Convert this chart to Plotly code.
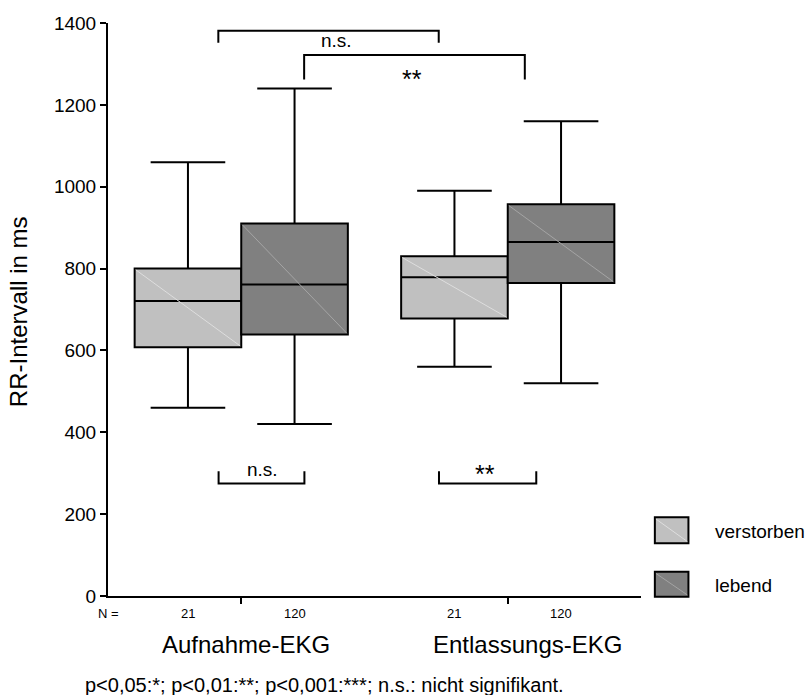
import plotly.graph_objects as go

# --- data -------------------------------------------------------------------
groups = ["Aufnahme-EKG", "Entlassungs-EKG"]
group_pos = [1, 2]
series_names = ["verstorben", "lebend"]
series_colors = ["#c0c0c0", "#808080"]
diag_colors = ["#dedede", "#a4a4a4"]
n_counts = [21, 120]

# five-number summaries per series, one entry per group
lower_whisker = {"verstorben": [460, 560], "lebend": [420, 520]}
q1_values = {"verstorben": [608, 678], "lebend": [639, 765]}
median_values = {"verstorben": [721, 779], "lebend": [761, 865]}
q3_values = {"verstorben": [800, 830], "lebend": [910, 957]}
upper_whisker = {"verstorben": [1060, 990], "lebend": [1240, 1160]}

y_ticks = [0, 200, 400, 600, 800, 1000, 1200, 1400]

FONT = "Liberation Sans, Arial, Helvetica, sans-serif"
BOX_W = 0.4
offsets = [-0.2, 0.2]

fig = go.Figure()

for name, col, off in zip(series_names, series_colors, offsets):
    xs = [g + off for g in group_pos]
    fig.add_trace(go.Box(
        x=xs,
        q1=q1_values[name],
        median=median_values[name],
        q3=q3_values[name],
        lowerfence=lower_whisker[name],
        upperfence=upper_whisker[name],
        width=BOX_W,
        whiskerwidth=0.7,
        fillcolor=col,
        line=dict(color="black", width=2),
        boxpoints=False,
        name=name,
        showlegend=False,
        hoverinfo="skip",
    ))

# faint diagonal hatch line across each box
for name, dcol, off in zip(series_names, diag_colors, offsets):
    for g, top, bot in zip(group_pos, q3_values[name], q1_values[name]):
        fig.add_trace(go.Scatter(
            x=[g + off - BOX_W / 2 + 0.004, g + off + BOX_W / 2 - 0.004],
            y=[top - 3, bot + 3],
            mode="lines",
            line=dict(color=dcol, width=1),
            showlegend=False,
            hoverinfo="skip",
        ))

# significance brackets: (x0, x1, y_bar, y_end, label, label_x, label_y, size)
brackets = [
    (0.914, 1.741, 1381, 1352, "n.s.", 1.356, 1358, 19),
    (1.236, 2.064, 1322, 1262, "**", 1.639, 1262, 25),
    (0.915, 1.237, 275, 305, "n.s.", 1.079, 309, 19),
    (1.742, 2.107, 275, 305, "**", 1.914, 297, 25),
]
shapes = []
annotations = []
for x0, x1, yb, ye, lab, lx, ly, fs in brackets:
    shapes.append(dict(
        type="path", xref="x", yref="y",
        path=f"M {x0},{ye} L {x0},{yb} L {x1},{yb} L {x1},{ye}",
        line=dict(color="black", width=2),
    ))
    annotations.append(dict(
        x=lx, y=ly, xref="x", yref="y", text=lab, showarrow=False,
        font=dict(family=FONT, size=fs, color="black"),
        xanchor="center", yanchor="middle",
    ))

# N = row under the axis
annotations.append(dict(
    x=0.5, y=-0.031, xref="x", yref="paper", text="N =", showarrow=False,
    font=dict(family=FONT, size=13, color="black"), xanchor="center", yanchor="middle",
))
for g in group_pos:
    for n, off in zip(n_counts, offsets):
        annotations.append(dict(
            x=g + off, y=-0.031, xref="x", yref="paper", text=str(n), showarrow=False,
            font=dict(family=FONT, size=13, color="black"),
            xanchor="center", yanchor="middle",
        ))

# group labels
for g, lab, shift in zip(group_pos, groups, [0.017, 0.075]):
    annotations.append(dict(
        x=g + shift, y=-0.084, xref="x", yref="paper", text=lab, showarrow=False,
        font=dict(family=FONT, size=24, color="black"),
        xanchor="center", yanchor="middle",
    ))

# y axis title
annotations.append(dict(
    x=-0.169, y=0.497, xref="paper", yref="paper", text="RR-Intervall in ms",
    showarrow=False, textangle=-90,
    font=dict(family=FONT, size=24, color="black"),
    xanchor="center", yanchor="middle",
))

# footnote
annotations.append(dict(
    x=-0.047, y=-0.155, xref="paper", yref="paper",
    text="p<0,05:*; p<0,01:**; p<0,001:***; n.s.: nicht signifikant.",
    showarrow=False, font=dict(family=FONT, size=20, color="black"),
    xanchor="left", yanchor="middle",
))

# legend drawn as swatches + labels
legend_rows = [(0.1373, 0.0920, 0.112), (0.0424, -0.0012, 0.018)]
for name, col, dcol, (ytop, ybot, ylab) in zip(series_names, series_colors, diag_colors, legend_rows):
    shapes.append(dict(
        type="rect", xref="paper", yref="paper",
        x0=1.026, x1=1.089, y0=ybot, y1=ytop,
        fillcolor=col, line=dict(color="black", width=2),
    ))
    shapes.append(dict(
        type="line", xref="paper", yref="paper",
        x0=1.028, x1=1.087, y0=ytop - 0.003, y1=ybot + 0.003,
        line=dict(color=dcol, width=1),
    ))
    annotations.append(dict(
        x=1.135, y=ylab, xref="paper", yref="paper", text=name, showarrow=False,
        font=dict(family=FONT, size=19, color="black"),
        xanchor="left", yanchor="middle",
    ))

fig.update_layout(
    width=805, height=695,
    margin=dict(l=108, r=164, t=23, b=99),
    paper_bgcolor="white", plot_bgcolor="white",
    font=dict(family=FONT, color="black"),
    boxmode="overlay",
    shapes=shapes,
    annotations=annotations,
    xaxis=dict(
        range=[0.5, 2.5], showgrid=False, zeroline=False,
        showline=True, linecolor="black", linewidth=2,
        tickmode="array", tickvals=group_pos, ticktext=["", ""],
        ticks="outside", ticklen=6, tickwidth=2, tickcolor="black",
        fixedrange=True,
    ),
    yaxis=dict(
        range=[0, 1400], showgrid=False, zeroline=False,
        showline=True, linecolor="black", linewidth=2,
        tickmode="array", tickvals=y_ticks,
        ticks="outside", ticklen=6, tickwidth=2, tickcolor="black",
        tickfont=dict(family=FONT, size=19, color="black"),
        fixedrange=True,
    ),
)

fig.write_html("out.html")
